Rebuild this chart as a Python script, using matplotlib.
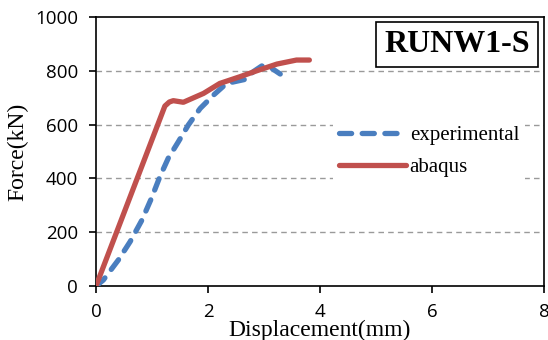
import matplotlib
matplotlib.use("Agg")
import matplotlib.pyplot as plt

# Data
exp_x = [0.0, 0.13, 0.40, 0.61, 0.82, 0.99, 1.14, 1.29, 1.47, 1.65, 1.86, 2.10, 2.33, 2.66, 2.81, 2.96, 3.14, 3.29]
exp_y = [0, 22, 97, 165, 245, 326, 406, 475, 536, 599, 660, 710, 753, 768, 797, 818, 809, 788]
abq_x = [0.0, 1.23, 1.31, 1.38, 1.56, 1.92, 2.21, 2.57, 2.87, 3.23, 3.58, 3.81]
abq_y = [0, 669, 684, 689, 683, 716, 753, 778, 800, 825, 840, 840]
x_ticks = [0, 2, 4, 6, 8]
y_ticks = [0, 200, 400, 600, 800, 1000]

serif = "Liberation Serif"
fig = plt.figure(figsize=(5.48, 3.40), dpi=100)
ax = fig.add_axes([96/548, 1-286/340, 448/548, 269/340])

ax.plot(exp_x, exp_y, color="#4a7ebf", lw=3.8, ls=(0, (2.3, 2.0)),
        dash_capstyle="round", solid_capstyle="round", label="experimental", zorder=3)
ax.plot(abq_x, abq_y, color="#c0504d", lw=3.8, solid_capstyle="round",
        solid_joinstyle="round", label="abaqus", zorder=4)

ax.set_xlim(0, 8)
ax.set_ylim(0, 1000)
ax.set_xticks(x_ticks)
ax.set_yticks(y_ticks)
for y in y_ticks[1:-1]:
    ax.axhline(y, color="#9a9a9a", lw=1.0, ls=(0, (4, 3)), zorder=1)
for s in ax.spines.values():
    s.set_color("black")
    s.set_linewidth(1.2)
ax.tick_params(direction="out", length=5, width=1.2, labelsize=13.5)
ax.tick_params(axis="y", pad=8)
ax.tick_params(axis="x", pad=7)
for lab in ax.get_xticklabels() + ax.get_yticklabels():
    lab.set_family("Open Sans")

ax.set_xlabel("Displacement(mm)", family=serif, fontsize=17)
ax.set_ylabel("Force(kN)", family=serif, fontsize=17)
ax.xaxis.set_label_coords(0.5, -0.125)
ax.yaxis.set_label_coords(-0.152, 0.5)

leg = ax.legend(loc="upper left", bbox_to_anchor=(0.505, 0.658), frameon=True,
                prop={"family": serif, "size": 15}, handlelength=3.2,
                handletextpad=0.2, labelspacing=0.6, borderpad=0.3)
leg.get_frame().set_edgecolor("none")
leg.get_frame().set_facecolor("white")
leg.get_frame().set_alpha(1)
leg.set_zorder(5)

ax.text(0.968, 0.95, "RUNW1-S", transform=ax.transAxes, ha="right", va="top",
        family=serif, fontweight="bold", fontsize=23,
        bbox=dict(boxstyle="square,pad=0.25", fc="white", ec="black", lw=1.2), zorder=6)

fig.savefig("out.png", dpi=100)
